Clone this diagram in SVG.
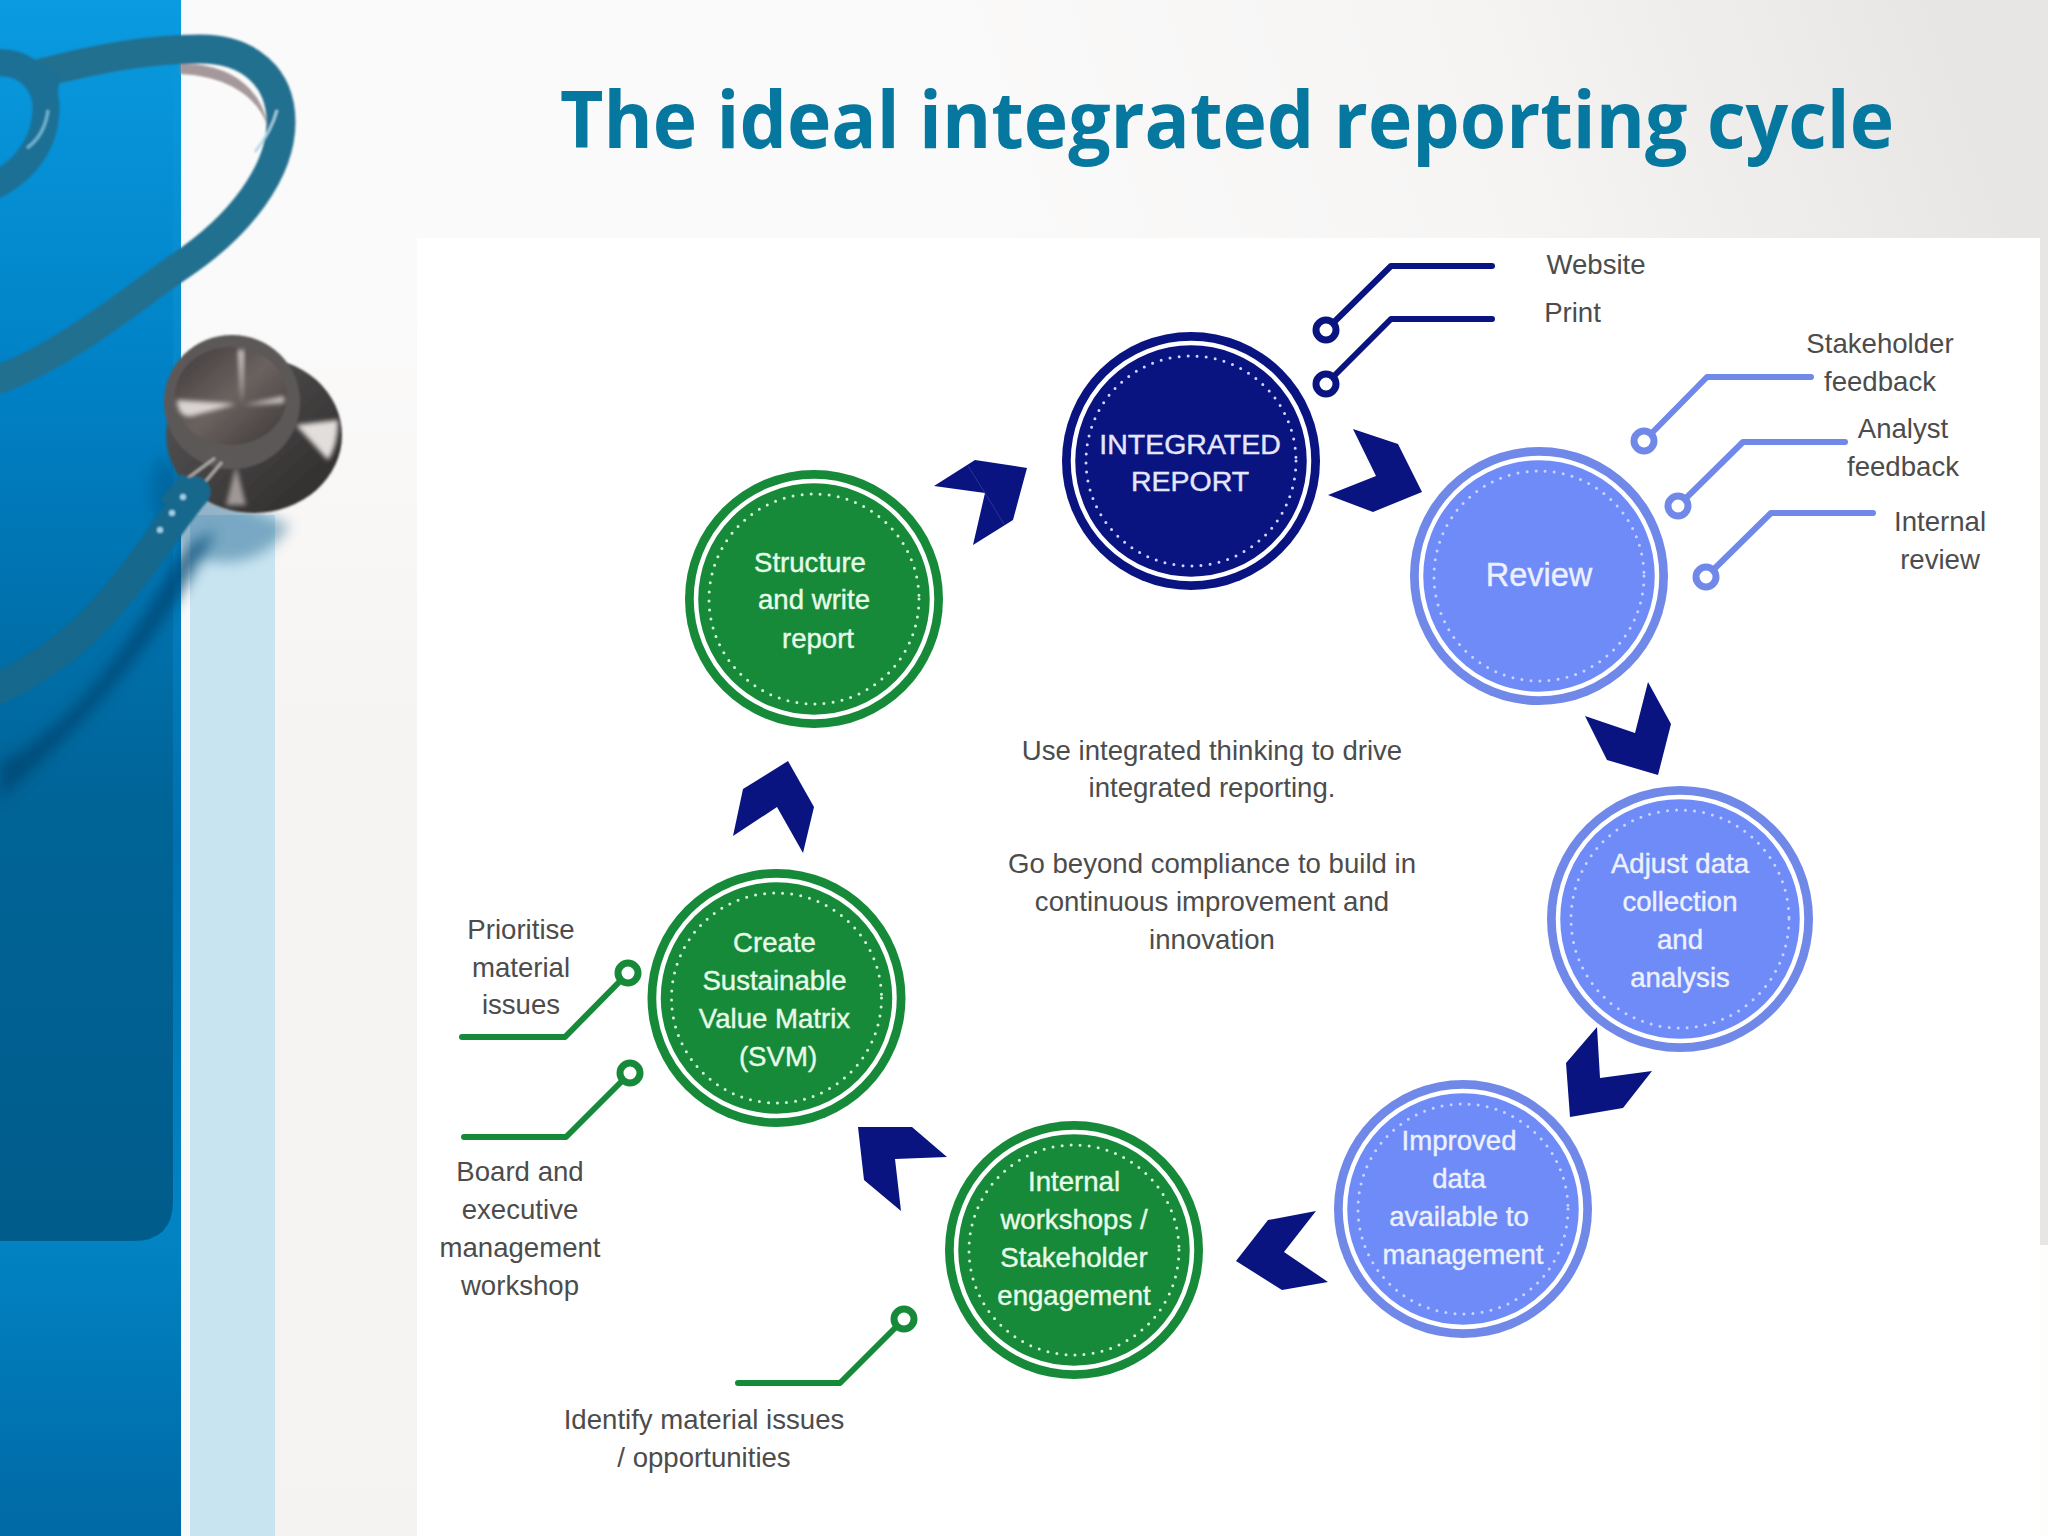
<svg xmlns="http://www.w3.org/2000/svg" width="2048" height="1536" viewBox="0 0 2048 1536">
<style>
text{font-family:"Liberation Sans",Arial,sans-serif;font-size:27.6px;text-anchor:middle}
.lab{fill:#4c4c4c}
.wg{fill:#e6fbe8;stroke:#e6fbe8;stroke-width:.4}
.wn{fill:#e4e7fa;stroke:#e4e7fa;stroke-width:.4}
.wp{fill:#edf1ff;stroke:#edf1ff;stroke-width:.4}
.ring{fill:none;stroke:#fff;stroke-width:4.500}
.dots{fill:none;stroke-width:3;stroke-linecap:round;stroke-dasharray:0 9.1}
.chev{fill:#0a1480}
.lead{fill:none;stroke-width:6;stroke-linecap:round;stroke-linejoin:round}
.knob{fill:#fff;stroke-width:7}
.tube{fill:none;stroke-linecap:round;stroke-linejoin:round}
</style>
<defs>
<linearGradient id="bg" gradientUnits="userSpaceOnUse" x1="1000" y1="320" x2="1950" y2="0"><stop offset="0" stop-color="#fbfafa"/><stop offset="0.5" stop-color="#f6f5f4"/><stop offset="1" stop-color="#e8e6e4"/></linearGradient>
<linearGradient id="leftbg" x1="0" y1="0" x2="0" y2="1"><stop offset="0.2" stop-color="#fbfafa"/><stop offset="0.5" stop-color="#f5f4f2"/><stop offset="1" stop-color="#f4f3f1"/></linearGradient>
<linearGradient id="band" x1="0" y1="0" x2="0" y2="1"><stop offset="0" stop-color="#0a9be0"/><stop offset="0.55" stop-color="#0070b0"/><stop offset="0.8" stop-color="#0284c4"/><stop offset="1" stop-color="#0069a5"/></linearGradient>
<linearGradient id="panel" x1="0" y1="0" x2="0" y2="1"><stop offset="0" stop-color="#0a9be0"/><stop offset="0.33" stop-color="#007fc3"/><stop offset="0.65" stop-color="#006497"/><stop offset="1" stop-color="#005c8b"/></linearGradient>
<linearGradient id="metal" x1="0" y1="0" x2="1" y2="1"><stop offset="0" stop-color="#3f3a3a"/><stop offset="0.5" stop-color="#6a6260"/><stop offset="1" stop-color="#3d3837"/></linearGradient>
<linearGradient id="metal2" x1="0" y1="0" x2="1" y2="1"><stop offset="0" stop-color="#5a5a5a"/><stop offset="1" stop-color="#2c2828"/></linearGradient>
<filter id="soft" x="-10%" y="-10%" width="120%" height="120%"><feGaussianBlur stdDeviation="1"/></filter>
<filter id="glint" x="-30%" y="-30%" width="160%" height="160%"><feGaussianBlur stdDeviation="2.200"/></filter>
<filter id="shad" x="-20%" y="-20%" width="140%" height="140%"><feGaussianBlur stdDeviation="7"/></filter>
</defs>

<g id="background">
<rect width="2048" height="1536" fill="#f4f3f1"/>
<rect width="2048" height="240" fill="url(#bg)"/>
<rect x="190" y="0" width="227" height="1536" fill="url(#leftbg)"/>
<rect x="417" y="238" width="1623" height="1298" fill="#fff"/>
<rect x="2040" y="238" width="8" height="1007" fill="#e7e6e4"/>
<rect x="2040" y="1245" width="8" height="291" fill="#fdfdfc"/>
<rect x="0" y="0" width="181" height="1536" fill="url(#band)"/>
<path d="M0 0H173V1201Q173 1241 133 1241H0Z" fill="url(#panel)"/>
<rect x="181" y="0" width="9" height="1536" fill="#f6fafc"/>
<rect x="190" y="515" width="85" height="1021" fill="#c9e4f1"/>
</g>

<g id="stethoscope">
<path d="M0 762C60 735 125 660 180 552L215 530C170 630 90 720 0 800Z" fill="#00456f" opacity="0.75" filter="url(#shad)"/>
<path d="M160 455a60 58 0 1 0 130 70l-60-25Z" fill="#004f7f" opacity="0.4" filter="url(#shad)"/>
<g filter="url(#soft)">
<path class="tube" d="M0 379C70 352 130 300 180 266C240 226 281 172 281 122C281 78 250 49 200 49C150 49 90 60 38 74" stroke="#24708f" stroke-width="29"/>
<path d="M180 64C225 62 262 85 268 128C258 95 225 76 180 74Z" fill="#8f7f82" opacity="0.8"/>
<path d="M255 152Q272 130 277 110" fill="none" stroke="#a9d5e6" stroke-width="2.500"/>
<path class="tube" d="M-6 63C26 60 46 82 46 108C46 142 26 170 -6 186" stroke="#1f6f95" stroke-width="27"/>
<path d="M27 148Q45 135 48 110" fill="none" stroke="#6fb4d2" stroke-width="3"/>
<path d="M28 62L60 72L56 116L38 80Z" fill="#1f6f95"/>
<ellipse cx="254" cy="435" rx="88" ry="78" fill="url(#metal2)"/>
<path d="M296 425L338 420Q338 445 328 460Q310 440 296 425Z" fill="#e2dedc" filter="url(#glint)"/>
<path d="M236 466L246 505L226 505Z" fill="#9e9896" filter="url(#glint)"/>
<ellipse cx="232" cy="402" rx="68" ry="67" fill="#5b5858"/>
<ellipse cx="231" cy="396" rx="56" ry="49" fill="url(#metal)"/>
<path d="M177 400Q178 418 192 416L236 404Z" fill="#d9d4d1" filter="url(#glint)"/>
<path d="M238 350L244 350L242 404Z" fill="#d2cdca" filter="url(#glint)"/>
<path d="M244 405L284 396L284 403Z" fill="#c9c4c1" filter="url(#glint)"/>
<path d="M188 478L215 458M200 488L222 462" stroke="#a8a4a2" stroke-width="3"/>
<path class="tube" d="M195 492C170 520 140 575 90 625C60 655 30 672 0 688" stroke="#17688c" stroke-width="31"/>
<path d="M200 485L182 474L160 499L178 517Z" fill="#17688c"/>
<circle cx="183" cy="497" r="3" fill="#9fd3ea"/><circle cx="172" cy="513" r="3" fill="#9fd3ea"/><circle cx="160" cy="530" r="3" fill="#9fd3ea"/>
</g>
</g>

<text id="title" x="560" y="148" textLength="1334" lengthAdjust="spacingAndGlyphs" style="font-family:'Open Sans','Liberation Sans',sans-serif;font-weight:700;font-size:79px;text-anchor:start" fill="#06789f">The ideal integrated reporting cycle</text>

<g id="connectors">
<g id="chevrons">
<polygon class="chev" points="1353,429 1398,444 1422,492 1373,512 1328,495 1376,476"/>
<polygon class="chev" points="1585,716 1635,733 1648,682 1671,724 1658,775 1607,760"/>
<polygon class="chev" points="1597,1027 1600,1078 1652,1071 1623,1108 1570,1117 1566,1063"/>
<polygon class="chev" points="1316,1211 1284,1252 1328,1282 1282,1290 1236,1261 1268,1220"/>
<polygon class="chev" points="858,1127 912,1127 947,1157 895,1159 901,1211 864,1180"/>
<polygon class="chev" points="733,836 743,789 788,761 814,807 803,853 777,807"/>
<polygon class="chev" points="934,486 975,460 1027,468 1013,520 973,545 985,493"/>
<path d="M968 466L985 493L1004 524" fill="none" stroke="#2a3396" stroke-width="1"/>
</g>
<g id="leaders-navy">
<path class="lead" stroke="#0a1480" d="M1326 330L1391 266H1492"/><circle class="knob" stroke="#0a1480" cx="1326" cy="330" r="10"/>
<path class="lead" stroke="#0a1480" d="M1326 384L1391 319H1492"/><circle class="knob" stroke="#0a1480" cx="1326" cy="384" r="10"/>
</g>
<g id="leaders-blue">
<path class="lead" stroke="#7088e8" d="M1644 441L1707 377H1811"/><circle class="knob" stroke="#7088e8" cx="1644" cy="441" r="10"/>
<path class="lead" stroke="#7088e8" d="M1678 506L1743 442H1845"/><circle class="knob" stroke="#7088e8" cx="1678" cy="506" r="10"/>
<path class="lead" stroke="#7088e8" d="M1706 577L1771 513H1873"/><circle class="knob" stroke="#7088e8" cx="1706" cy="577" r="10"/>
</g>
<g id="leaders-green">
<path class="lead" stroke="#178a3a" d="M628 973L565 1037H462"/><circle class="knob" stroke="#178a3a" cx="628" cy="973" r="10"/>
<path class="lead" stroke="#178a3a" d="M630 1073L566 1137H464"/><circle class="knob" stroke="#178a3a" cx="630" cy="1073" r="10"/>
<path class="lead" stroke="#178a3a" d="M904 1319L840 1383H738"/><circle class="knob" stroke="#178a3a" cx="904" cy="1319" r="10"/>
</g>
</g>

<g id="node-integrated-report">
<circle cx="1191" cy="461" r="129" fill="#0a1480"/>
<circle class="ring" cx="1191" cy="461" r="118"/>
<circle class="dots" stroke="#cfd5ff" cx="1191" cy="461" r="105"/>
<text class="wn" x="1190" y="454" style="font-size:28.500px">INTEGRATED</text>
<text class="wn" x="1190" y="491" style="font-size:28.500px">REPORT</text>
</g>
<g id="node-review">
<circle cx="1539" cy="576" r="129" fill="#7088e8"/>
<circle cx="1539" cy="576" r="118" fill="#6f8bf8"/>
<circle class="ring" cx="1539" cy="576" r="118"/>
<circle class="dots" stroke="#c9d5ff" cx="1539" cy="576" r="105"/>
<text class="wp" x="1539" y="586" style="font-size:32.500px">Review</text>
</g>
<g id="node-adjust">
<circle cx="1680" cy="919" r="133" fill="#7088e8"/>
<circle cx="1680" cy="919" r="122" fill="#6f8bf8"/>
<circle class="ring" cx="1680" cy="919" r="122"/>
<circle class="dots" stroke="#c9d5ff" cx="1680" cy="919" r="109"/>
<text class="wp" x="1680" y="873">Adjust data</text>
<text class="wp" x="1680" y="911">collection</text>
<text class="wp" x="1680" y="949">and</text>
<text class="wp" x="1680" y="987">analysis</text>
</g>
<g id="node-improved">
<circle cx="1463" cy="1209" r="129" fill="#7088e8"/>
<circle cx="1463" cy="1209" r="118" fill="#6f8bf8"/>
<circle class="ring" cx="1463" cy="1209" r="118"/>
<circle class="dots" stroke="#c9d5ff" cx="1463" cy="1209" r="105"/>
<text class="wp" x="1459" y="1150">Improved</text>
<text class="wp" x="1459" y="1188">data</text>
<text class="wp" x="1459" y="1226">available to</text>
<text class="wp" x="1463" y="1264">management</text>
</g>
<g id="node-internal">
<circle cx="1074" cy="1250" r="129" fill="#178a3a"/>
<circle class="ring" cx="1074" cy="1250" r="118"/>
<circle class="dots" stroke="#d6f5da" cx="1074" cy="1250" r="105"/>
<text class="wg" x="1074" y="1191">Internal</text>
<text class="wg" x="1074" y="1229">workshops /</text>
<text class="wg" x="1074" y="1267">Stakeholder</text>
<text class="wg" x="1074" y="1305">engagement</text>
</g>
<g id="node-create">
<circle cx="776.500" cy="998" r="129" fill="#178a3a"/>
<circle class="ring" cx="776.500" cy="998" r="118"/>
<circle class="dots" stroke="#d6f5da" cx="776.500" cy="998" r="105"/>
<text class="wg" x="774.500" y="952">Create</text>
<text class="wg" x="774.500" y="990">Sustainable</text>
<text class="wg" x="774.500" y="1028">Value Matrix</text>
<text class="wg" x="778" y="1066">(SVM)</text>
</g>
<g id="node-structure">
<circle cx="814" cy="599" r="129" fill="#178a3a"/>
<circle class="ring" cx="814" cy="599" r="118"/>
<circle class="dots" stroke="#d6f5da" cx="814" cy="599" r="105"/>
<text class="wg" x="810" y="572">Structure</text>
<text class="wg" x="814" y="609">and write</text>
<text class="wg" x="818" y="648">report</text>
</g>

<g id="labels">
<text class="lab" x="1596" y="274">Website</text>
<text class="lab" x="1572.500" y="322">Print</text>
<text class="lab" x="1880" y="353">Stakeholder</text>
<text class="lab" x="1880" y="391">feedback</text>
<text class="lab" x="1903" y="438">Analyst</text>
<text class="lab" x="1903" y="476">feedback</text>
<text class="lab" x="1940" y="531">Internal</text>
<text class="lab" x="1940" y="569">review</text>
<text class="lab" x="521" y="939">Prioritise</text>
<text class="lab" x="521" y="977">material</text>
<text class="lab" x="521" y="1014">issues</text>
<text class="lab" x="520" y="1181">Board and</text>
<text class="lab" x="520" y="1219">executive</text>
<text class="lab" x="520" y="1257">management</text>
<text class="lab" x="520" y="1295">workshop</text>
<text class="lab" x="704" y="1429">Identify material issues</text>
<text class="lab" x="704" y="1467">/ opportunities</text>
</g>
<g id="centre-text">
<text class="lab" x="1212" y="760">Use integrated thinking to drive</text>
<text class="lab" x="1212" y="797">integrated reporting.</text>
<text class="lab" x="1212" y="873">Go beyond compliance to build in</text>
<text class="lab" x="1212" y="911">continuous improvement and</text>
<text class="lab" x="1212" y="949">innovation</text>
</g>
</svg>
